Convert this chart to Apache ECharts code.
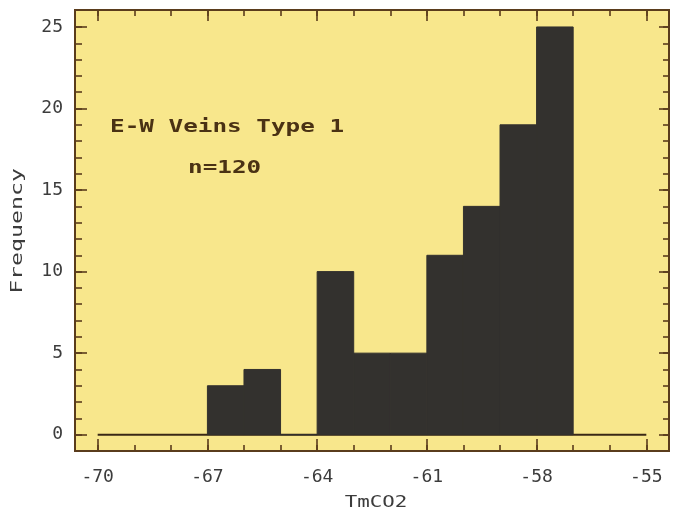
<!DOCTYPE html>
<html>
<head>
<meta charset="utf-8">
<script src="https://cdn.jsdelivr.net/npm/echarts@6/dist/echarts.min.js"></script>
<style>
html,body{margin:0;padding:0;background:#fff;}
#chart-panel{width:675px;height:520px;}
</style>
</head>
<body>
<div id="chart-panel"></div>
<script>
// histogram bins (left edge, width 1) and counts
var binStart = [-67, -66, -65, -64, -63, -62, -61, -60, -59, -58];
var binWidth = 1;
var counts = [3, 4, 0, 10, 5, 5, 11, 14, 19, 25];
var xTickLabels = [-70, -67, -64, -61, -58, -55];
var yTickLabels = [0, 5, 10, 15, 20, 25];
var titleText = 'E-W Veins Type 1';
var nText = 'n=120';

var xMinorTicks = [];
for (var t = xTickLabels[0]; t <= xTickLabels[xTickLabels.length - 1]; t++) xMinorTicks.push(t);
var yMinorTicks = [];
for (var u = yTickLabels[0]; u <= yTickLabels[yTickLabels.length - 1]; u++) yMinorTicks.push(u);

var barData = [];
for (var i = 0; i < binStart.length; i++) {
	barData.push([binStart[i], counts[i], binStart[i] + binWidth]);
}
var baseLine = [[xTickLabels[0], 0], [xTickLabels[xTickLabels.length - 1], 0]];

var frameColor = '#5a3c1c';
var labelColor = '#3c3c3c';
var barColor = '#33312e';
var font = '"DejaVu Sans Mono", monospace';
var xMin = -70.62, xMax = -54.38, yMin = -1, yMax = 26.04;
var gridTop = 10, gridBottom = 69, gridH = 520 - gridTop - gridBottom;

// offset lets a 'top' axis sit on the bottom edge, ticks pointing up into the plot
function xAxisCfg(pos, ticks, len, inside, offset) {
	return {
		type: 'value', position: pos, min: xMin, max: xMax, z: 5,
		offset: offset || 0,
		axisLine: {show: false, onZero: false},
		splitLine: {show: false},
		axisTick: {show: true, inside: inside, length: len, customValues: ticks,
			lineStyle: {color: frameColor, width: 1.6}},
		axisLabel: {show: false}
	};
}
function yAxisCfg(pos, ticks, len, labels) {
	return {
		type: 'value', position: pos, min: yMin, max: yMax, z: 5,
		axisLine: {show: false, onZero: false},
		splitLine: {show: false},
		axisTick: {show: true, inside: true, length: len, customValues: ticks,
			lineStyle: {color: frameColor, width: 1.6}},
		axisLabel: labels ? {show: true, customValues: labels, margin: 12,
			color: labelColor, fontFamily: font, fontSize: 18} : {show: false}
	};
}

var myChart = echarts.init(document.getElementById('chart-panel'));
var option = {
	backgroundColor: '#ffffff',
	animation: false,
	grid: {
		left: 75, right: 6, top: gridTop, bottom: gridBottom,
		show: true,
		backgroundColor: '#f8e78c',
		borderColor: frameColor,
		borderWidth: 2
	},
	xAxis: [
		{
			type: 'value', position: 'bottom', min: xMin, max: xMax,
			axisLine: {show: false, onZero: false},
			splitLine: {show: false},
			axisTick: {show: false},
			axisLabel: {show: true, customValues: xTickLabels, margin: 17,
				color: labelColor, fontFamily: font, fontSize: 18}
		},
		xAxisCfg('top', xMinorTicks, 6, false, -gridH),
		xAxisCfg('top', xTickLabels, 12, false, -gridH),
		xAxisCfg('top', xMinorTicks, 6, true, 0),
		xAxisCfg('top', xTickLabels, 11, true, 0)
	],
	yAxis: [
		yAxisCfg('left', yMinorTicks, 7, yTickLabels),
		yAxisCfg('left', yTickLabels, 12, null),
		yAxisCfg('right', yMinorTicks, 6, null),
		yAxisCfg('right', yTickLabels, 10, null)
	],
	graphic: [
		{type: 'text', x: 110, y: 127, scaleX: 1.35,
			style: {text: titleText, font: 'bold 18px ' + font, fill: '#4a3214',
				textVerticalAlign: 'middle'}},
		{type: 'text', x: 188, y: 168, scaleX: 1.35,
			style: {text: nText, font: 'bold 18px ' + font, fill: '#4a3214',
				textVerticalAlign: 'middle'}},
		{type: 'text', x: 18, y: 231, rotation: Math.PI / 2, scaleX: 1.45,
			style: {text: 'Frequency', font: '16px ' + font, fill: labelColor,
				textAlign: 'center', textVerticalAlign: 'middle'}},
		{type: 'text', x: 376, y: 503, scaleX: 1.3,
			style: {text: 'TmCO2', font: '16px ' + font, fill: labelColor,
				textAlign: 'center', textVerticalAlign: 'middle'}}
	],
	series: [
		{
			type: 'line',
			data: baseLine,
			symbol: 'none',
			lineStyle: {color: '#3a2816', width: 2},
			z: 1
		},
		{
			type: 'custom',
			data: barData,
			encode: {x: [0, 2], y: 1},
			z: 2,
			renderItem: function (params, api) {
				var p0 = api.coord([api.value(0), 0]);
				var p1 = api.coord([api.value(2), api.value(1)]);
				return {
					type: 'rect',
					shape: {x: p0[0], y: p1[1], width: p1[0] - p0[0], height: p0[1] - p1[1]},
					style: {fill: barColor, stroke: barColor, lineWidth: 1}
				};
			}
		}
	]
};
myChart.setOption(option);
</script>
</body>
</html>
